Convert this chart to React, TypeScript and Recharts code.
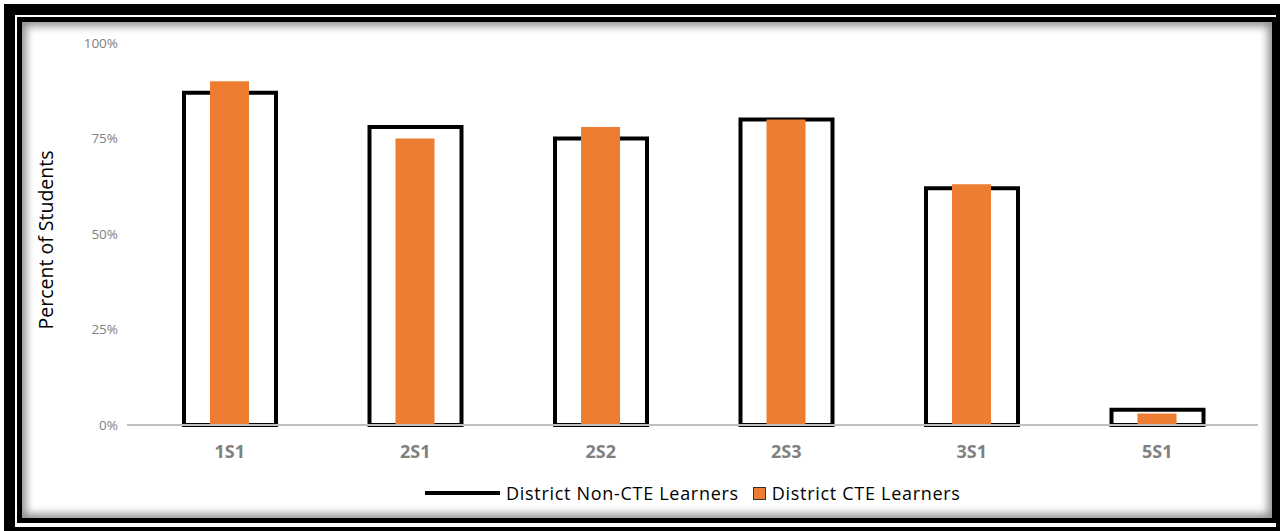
import { BarChart, Bar, XAxis, YAxis } from "recharts";

const CATEGORIES = ["1S1", "2S1", "2S2", "2S3", "3S1", "5S1"];
const NON_CTE = [0.87, 0.78, 0.75, 0.8, 0.62, 0.04];
const CTE = [0.9, 0.75, 0.78, 0.8, 0.63, 0.03];
const Y_TICKS = [0, 0.25, 0.5, 0.75, 1];

const ORANGE = "#ED7D31";
const FONT = "'Open Sans', 'Noto Sans', sans-serif";

const data = CATEGORIES.map((c, i) => ({ name: c, nonCte: NON_CTE[i], cte: CTE[i] }));

function ChartLegend() {
  return (
    <div
      style={{
        position: "absolute",
        left: 425,
        top: 481,
        display: "flex",
        alignItems: "center",
        fontFamily: FONT,
        fontSize: 18,
        letterSpacing: 0.7,
        color: "#000",
        whiteSpace: "nowrap",
      }}
    >
      <span style={{ display: "inline-block", width: 75, height: 4, background: "#000", marginRight: 6 }} />
      <span>District Non-CTE Learners</span>
      <span
        style={{
          display: "inline-block",
          width: 11,
          height: 11,
          background: ORANGE,
          border: "1px solid #333",
          marginLeft: 14,
          marginRight: 6,
        }}
      />
      <span>District CTE Learners</span>
    </div>
  );
}

export default function App() {
  return (
    <div style={{ position: "absolute", left: 0, top: 0, width: 1284, height: 531, background: "#fff", overflow: "hidden" }}>
      {/* outer frame */}
      <div
        style={{
          position: "absolute",
          left: 4,
          top: 4,
          width: 1280 - 4 - 15,
          height: 531 - 4 - 15,
          borderStyle: "solid",
          borderColor: "#000",
          borderWidth: "11px 4px 4px 11px",
        }}
      />
      {/* inner frame with shadow */}
      <div
        style={{
          position: "absolute",
          left: 17,
          top: 17,
          width: 1277 - 17 - 10,
          height: 523 - 17 - 10,
          border: "5px solid #000",
          boxShadow: "inset 0 0 8px 4px rgba(0,0,0,0.45)",
        }}
      />
      <div style={{ position: "absolute", left: 0, top: 0 }}>
        <BarChart width={1284} height={531} data={data} margin={{ top: 43, right: 26, bottom: 76, left: 0 }}>
          <XAxis
            xAxisId="a"
            dataKey="name"
            height={30}
            padding={{ left: 10, right: 8 }}
            tickLine={false}
            tickSize={0}
            tickMargin={20}
            axisLine={{ stroke: "#BFBFBF", strokeWidth: 2 }}
            tick={{ fill: "#808080", fontSize: 18, fontWeight: 700, fontFamily: FONT }}
          />
          <XAxis xAxisId="b" dataKey="name" padding={{ left: 10, right: 8 }} hide />
          <YAxis
            width={127}
            domain={[0, 1]}
            ticks={Y_TICKS}
            tickFormatter={(v: number) => `${Math.round(v * 100)}%`}
            axisLine={false}
            tickLine={false}
            tickSize={0}
            tickMargin={9}
            tick={{ fill: "#808080", fontSize: 13.5, fontFamily: FONT }}
            label={{
              content: ({ viewBox }: any) => {
                const x = viewBox.x + 45;
                const y = viewBox.y + viewBox.height / 2 + 6;
                return (
                  <text
                    x={x}
                    y={y}
                    transform={`rotate(-90 ${x} ${y})`}
                    textAnchor="middle"
                    dominantBaseline="central"
                    fontSize={19.5}
                    fontFamily={FONT}
                    fill="#000"
                  >
                    Percent of Students
                  </text>
                );
              },
            }}
          />
          <Bar
            xAxisId="a"
            dataKey="nonCte"
            name="District Non-CTE Learners"
            fill="#fff"
            stroke="#000"
            strokeWidth={4}
            barSize={92}
            isAnimationActive={false}
          />
          <Bar
            xAxisId="b"
            dataKey="cte"
            name="District CTE Learners"
            fill={ORANGE}
            barSize={39}
            isAnimationActive={false}
          />
        </BarChart>
      </div>
      <ChartLegend />
    </div>
  );
}
